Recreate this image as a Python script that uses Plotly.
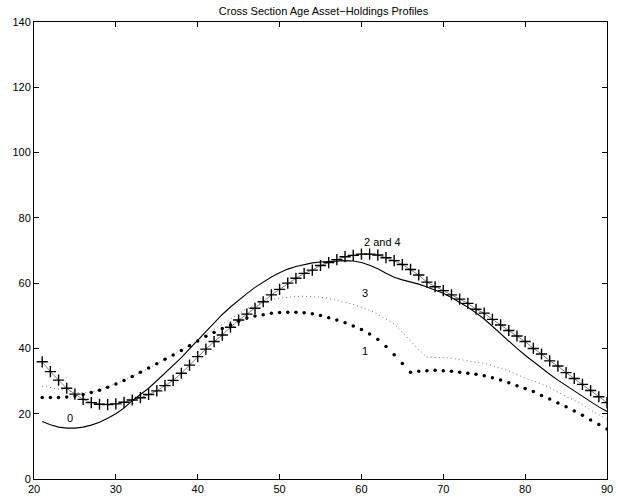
import plotly.graph_objects as go

# Age grid (years)
ages = list(range(21, 91))

# Profile 0: solid line
prof0 = [17.6, 16.6, 15.9, 15.6, 15.6, 15.9, 16.5, 17.4, 18.6, 20.0,
         21.7, 24.0, 25.9, 27.8, 30.1, 32.4, 34.8, 37.2, 39.9, 42.6,
         45.3, 48.0, 50.4, 52.7, 54.8, 56.8, 58.7, 60.4, 61.9, 63.2,
         64.3, 65.1, 65.7, 66.2, 66.5, 66.7, 66.8, 66.9, 66.8, 66.3,
         65.5, 64.4, 63.0, 61.8, 61.0, 60.4, 59.7, 58.8, 57.9, 56.9,
         55.6, 54.2, 52.6, 50.9, 49.0, 46.8, 44.5, 42.1, 40.0, 37.9,
         35.9, 34.0, 32.1, 30.3, 28.6, 26.9, 25.3, 23.7, 22.1, 20.7]

# Profile 1: heavy dots
prof1 = [25.0, 25.0, 25.0, 25.1, 25.4, 25.9, 26.5, 27.2, 28.1, 29.1,
         30.2, 31.4, 32.7, 34.0, 35.3, 36.7, 38.0, 39.4, 40.8, 42.3,
         43.7, 44.9, 46.1, 47.2, 48.3, 49.3, 49.9, 50.3, 50.8, 51.0,
         51.1, 51.1, 50.9, 50.6, 50.1, 49.4, 48.7, 47.9, 46.9, 45.8,
         44.4, 42.7, 40.6, 38.1, 35.4, 32.7, 33.0, 33.2, 33.3, 33.2,
         33.0, 32.7, 32.4, 32.1, 31.6, 31.0, 30.3, 29.5, 28.6, 27.7,
         26.8, 25.6, 24.5, 23.3, 22.1, 20.8, 19.5, 18.1, 16.7, 15.3]

# Profiles 2 and 4: plus markers on a thin line
prof24 = [35.9, 32.9, 30.3, 27.8, 26.0, 24.4, 23.4, 22.9, 22.8, 23.0,
          23.5, 24.2, 24.9, 25.9, 27.0, 28.6, 30.2, 32.4, 34.9, 37.5,
          39.8, 42.1, 44.1, 46.5, 48.7, 50.5, 52.3, 54.3, 56.4, 58.1,
          60.0, 61.5, 63.0, 64.0, 65.4, 66.3, 67.2, 68.1, 68.5, 68.9,
          68.9, 68.6, 67.8, 66.9, 65.7, 64.2, 62.5, 60.3, 58.9, 57.7,
          56.4, 55.1, 53.8, 52.0, 50.8, 48.9, 47.2, 45.5, 43.8, 42.1,
          40.0, 38.3, 36.2, 34.6, 32.6, 30.8, 29.0, 27.1, 25.2, 23.4]

# Profile 3: fine dotted line
prof3 = [28.5, 28.0, 27.5, 27.0, 26.6, 26.4, 26.7, 27.3, 28.2, 29.2,
         30.2, 31.4, 32.6, 33.9, 35.3, 36.7, 38.1, 39.6, 41.0, 42.6,
         44.2, 45.8, 47.4, 49.2, 50.8, 52.2, 53.3, 54.2, 54.9, 55.4,
         55.7, 55.9, 56.0, 55.9, 55.7, 55.3, 54.8, 54.1, 53.5, 52.7,
         51.7, 50.5, 49.0, 47.5, 45.0, 42.3, 39.6, 37.3, 37.3, 37.2,
         37.0, 36.6, 36.3, 35.9, 35.4, 34.7, 34.0, 33.1, 32.0, 30.9,
         30.1, 29.1, 28.0, 26.6, 25.4, 24.1, 22.7, 21.1, 19.7, 18.3]

# Curve labels: (text, age, value)
curve_labels = [("0", 24.4, 18.8), ("1", 60.4, 39.2),
                ("3", 60.4, 56.9), ("2 and 4", 62.6, 72.6)]

x_ticks = [20, 30, 40, 50, 60, 70, 80, 90]
y_ticks = [0, 20, 40, 60, 80, 100, 120, 140]

FONT = "Liberation Sans, Arial, Helvetica, sans-serif"

fig = go.Figure()

fig.add_trace(go.Scatter(x=ages, y=prof3, mode="lines",
                         line=dict(color="#7a7a7a", width=1, dash="1px,3px")))
fig.add_trace(go.Scatter(x=ages, y=prof1, mode="markers",
                         marker=dict(color="black", size=3.5, symbol="circle")))
fig.add_trace(go.Scatter(x=ages, y=prof24, mode="lines+markers",
                         line=dict(color="black", width=0.5),
                         marker=dict(color="black", size=8, symbol="cross-thin",
                                     line=dict(color="black", width=1.4))))
fig.add_trace(go.Scatter(x=ages, y=prof0, mode="lines",
                         line=dict(color="black", width=1.1)))

for text, xa, ya in curve_labels:
    fig.add_annotation(x=xa, y=ya, text=text, showarrow=False,
                       font=dict(family=FONT, size=11, color="black"))

axis_style = dict(showline=True, linecolor="black", linewidth=1, mirror="ticks",
                  ticks="inside", ticklen=5, tickcolor="black", tickwidth=1,
                  showgrid=False, zeroline=False,
                  tickfont=dict(family=FONT, size=11, color="black"))

fig.update_xaxes(range=[20, 90], tickvals=x_ticks, ticktext=[str(v) for v in x_ticks],
                 **axis_style)
fig.update_yaxes(range=[0, 140], tickvals=y_ticks, ticktext=[str(v) for v in y_ticks],
                 **axis_style)

fig.update_layout(
    width=621, height=503,
    margin=dict(l=34, r=8, t=22, b=24),
    paper_bgcolor="white", plot_bgcolor="white",
    showlegend=False,
    title=dict(text="Cross Section Age Asset\u2212Holdings Profiles",
               x=(34 + 613) / 2 / 621, xanchor="center", y=1 - 11 / 503, yanchor="middle",
               font=dict(family=FONT, size=11, color="black")),
)

fig.write_html("out.html")
